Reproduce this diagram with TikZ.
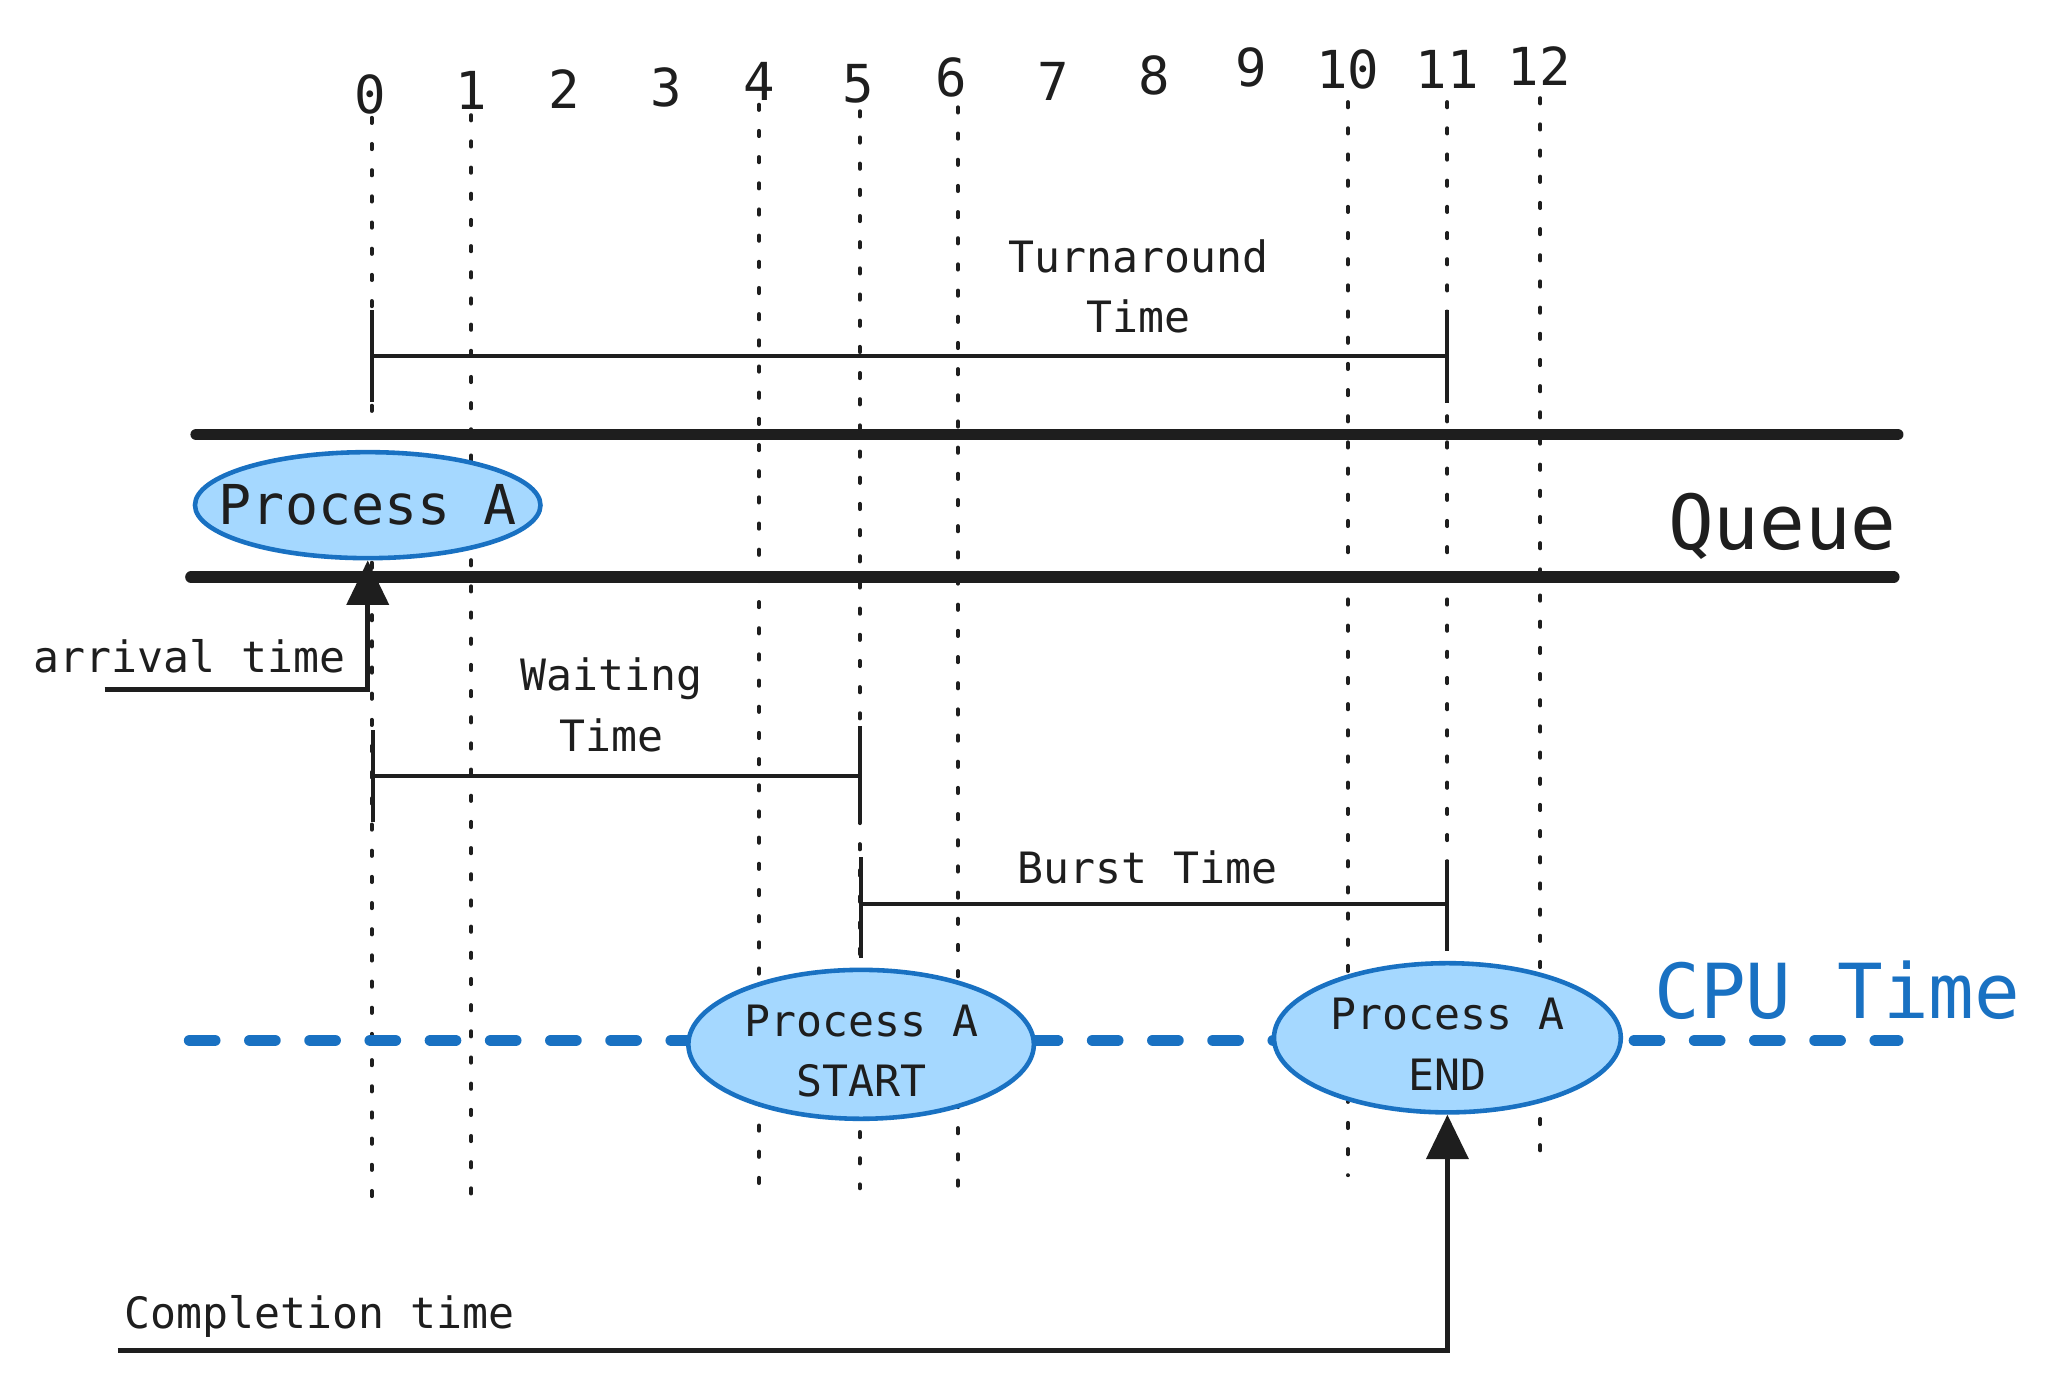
\documentclass[tikz,border=0pt]{standalone}
\usepackage{fontspec}
\setmonofont{DejaVu Sans Mono}
\usetikzlibrary{shapes.geometric,arrows.meta}
\definecolor{ink}{HTML}{1E1E1E}
\definecolor{bstroke}{HTML}{1971C2}
\definecolor{bfill}{HTML}{A5D8FF}
\tikzset{
  gridline/.style={ink, line width=3pt, line cap=round, dash pattern=on 4pt off 16pt},
  queueline/.style={ink, line width=9pt, line cap=round},
  cpuline/.style={bstroke, line width=9pt, line cap=round, dash pattern=on 19pt off 27pt},
  spanline/.style={ink, line width=3pt},
  proc/.style={ellipse, draw=bstroke, fill=bfill, line width=3.5pt, inner xsep=-25pt, inner ysep=0pt, text=ink, align=center},
  digit/.style={anchor=base, inner sep=0pt, text=ink, font=\ttfamily\fontsize{40}{46}\selectfont},
  lbl/.style={anchor=base, inner sep=0pt, text=ink, align=center, font=\ttfamily\fontsize{33}{46}\selectfont},
  big/.style={anchor=base, inner sep=0pt, font=\ttfamily\fontsize{58}{64}\selectfont},
  arr/.style={ink, line width=3.5pt, -{Triangle[length=34pt, width=32pt]}},
}
\begin{document}
\begin{tikzpicture}[x=1pt, y=-1pt]
\useasboundingbox (0,0) rectangle (1568,1055);
% time grid
\foreach \x/\a/\b in {284/90/920, 360/88/920, 580/80/910, 657/85/908, 732/82/910, 1030/78/898, 1106/78/890, 1177/75/892}
  \draw[gridline] (\x,\a) -- (\x,\b);
% digits
\foreach \x/\y/\t [count=\i] in {283/87/0, 360/84/1, 431/83/2, 509/81/3, 580/77/4, 656/78/5, 727/74/6, 805/77/7, 882/72/8, 956/66/9, 1030/68/10, 1106/68/11, 1176/65/12}
  \node[digit] (d\i) at (\x,\y) {\t};
% queue
\draw[queueline] (150,332) -- (1450,332);
\draw[queueline] (146,441) -- (1447,441);
\node[big, text=ink] (queue) at (1362,420) {Queue};
% cpu line
\draw[cpuline] (145,795) -- (1450,795);
\node[big, text=bstroke] (cpu) at (1404,778) {CPU Time};
% turnaround
\draw[spanline] (284,237) -- (284,307);
\draw[spanline] (1106,237) -- (1106,308);
\draw[spanline] (284,272) -- (1106,272);
\node[lbl] (ta) at (870,254) {Turnaround\\Time};
% waiting
\draw[spanline] (285,558) -- (285,628);
\draw[spanline] (657,555) -- (657,628);
\draw[spanline] (285,593) -- (657,593);
\node[lbl] (wt) at (467,574) {Waiting\\Time};
% burst
\draw[spanline] (658,655) -- (658,732);
\draw[spanline] (1106,657) -- (1106,727);
\draw[spanline] (658,691) -- (1106,691);
\node[lbl] (bt) at (877,675) {Burst Time};
% processes
\node[proc, minimum width=264pt, minimum height=81pt, font=\ttfamily\fontsize{42}{46}\selectfont] (pa) at (281,386) {Process A};
\node[proc, minimum width=264pt, minimum height=113pt, font=\ttfamily\fontsize{33}{46}\selectfont] (ps) at (658,798) {\rule{0pt}{34pt}Process A\\START};
\node[proc, minimum width=265pt, minimum height=114pt, font=\ttfamily\fontsize{33}{46}\selectfont] (pe) at (1106,793) {\rule{0pt}{34pt}Process A\\END};
% arrival
\coordinate (arrS) at (80,527);
\draw[arr] (arrS) -| (pa.south);
\node[lbl] (arrl) at (145,514) {arrival time};
% completion
\coordinate (compS) at (90,1032);
\draw[arr] (compS) -| (pe.south);
\node[lbl] (compl) at (244,1015) {Completion time};
\end{tikzpicture}
\end{document}
